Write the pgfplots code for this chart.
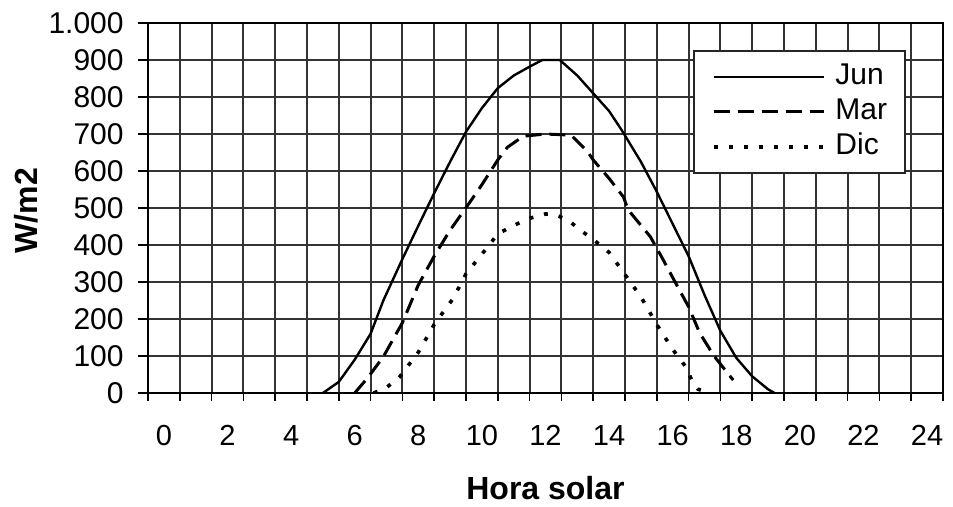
\documentclass[border=0pt]{standalone}
\usepackage{fontspec}
\setmainfont{Liberation Sans}
\usepackage{pgfplots}
\pgfplotsset{compat=1.18}
\usetikzlibrary{calc}

\begin{document}
\begin{tikzpicture}
\begin{axis}[
  name=ax,
  scale only axis,
  width=397.5pt, height=185pt,
  xmin=-0.5, xmax=24.5, ymin=0, ymax=1000,
  xtick={0,2,...,24},
  xticklabels={0,2,4,6,8,10,12,14,16,18,20,22,24},
  minor xtick={-0.5,0.5,...,24.5},
  ytick={0,100,...,1000},
  yticklabels={0,100,200,300,400,500,600,700,800,900,1.000},
  xminorgrids=true, xmajorgrids=false, ymajorgrids=true,
  grid style={draw=black!80, line width=1pt},
  minor grid style={draw=black!80, line width=1pt},
  tick pos=left, tick align=outside,
  major tick length=5pt, minor tick length=4pt,
  tick style={black, line width=0.8pt},
  major x tick style={draw=none},
  axis line style={black, line width=1.3pt},
  xticklabel style={font=\fontsize{14.5}{17}\selectfont, anchor=north, inner sep=0pt,
    text height=10.4pt, text depth=0pt, yshift=-10.5pt},
  yticklabel style={font=\fontsize{15}{18}\selectfont, anchor=east, inner sep=0pt, xshift=-7pt},
  xlabel={Hora solar},
  xlabel style={at={(axis description cs:0.5,-0.257)}, anchor=center, font=\fontsize{16}{19}\selectfont\bfseries},
  ylabel={W/m2},
  ylabel style={at={(axis description cs:-0.1528,0.493)}, anchor=center, font=\fontsize{16}{19}\selectfont\bfseries},
  legend cell align=left,
  legend image code/.code={\draw[#1] (0pt,0pt) -- (55pt,0pt);},
  legend style={at={(0.6855,0.927)}, anchor=north west, draw=black!85, line width=0.9pt, fill=white,
    inner xsep=9pt, inner ysep=6.25pt, row sep=4pt, font=\fontsize{15}{18}\selectfont,
    nodes={inner sep=0pt, text height=10.5pt, text depth=3pt, anchor=west},
    /tikz/every odd column/.append style={column sep=5pt}},
]
% Jun
\addplot[black, mark=none, line width=1.2pt, line join=round] coordinates {
  (5.0,0) (5.5,30) (6.0,90) (6.5,160) (6.9,250) (7.5,362) (8.0,452) (8.5,540)
  (9.0,625) (9.5,706) (10.0,770) (10.5,824) (11.0,858) (11.5,882) (11.9,900)
  (12.45,900) (13.0,858) (13.5,810) (14.0,762) (14.4,710) (15.0,625)
  (15.5,544) (16.2,422) (16.5,370) (17.0,265) (17.5,168) (18.0,95) (18.5,45)
  (19.0,10) (19.2,0)
};
\addlegendentry{Jun}
% Mar
\addplot[black, mark=none, line width=1.5pt, dash pattern=on 8pt off 4pt, line join=round] coordinates {
  (6.0,0) (6.4,40) (6.9,98) (7.5,190) (8.0,292) (8.5,370) (9.0,440) (9.6,513)
  (10.0,563) (10.5,630) (10.8,664) (11.3,694) (12.0,700) (12.8,697) (13.3,655)
  (13.5,630) (14.0,580) (14.45,530) (14.6,495) (15.3,422) (15.65,368) (16.0,312)
  (16.5,233) (16.85,162) (17.3,100) (17.9,35)
};
\addlegendentry{Mar}
% Dic
\addplot[black, mark=none, line width=1.8pt, dash pattern=on 2pt off 5.5pt, line join=round] coordinates {
  (6.6,0) (7.0,15) (7.4,42) (8.0,110) (8.5,185) (9.1,256) (9.5,322) (10.1,386)
  (10.5,430) (11.0,453) (11.5,472) (12.0,484) (12.3,482) (12.7,468) (13.1,440)
  (13.5,415) (14.0,380) (14.5,320) (15.0,260) (15.5,185) (16.0,118) (16.4,72)
  (16.6,35) (16.8,10) (17.2,0)
};
\addlegendentry{Dic}
\end{axis}
\path ($(ax.south west)+(-74pt,-55.5pt)$) rectangle ($(ax.north east)+(5pt,11.5pt)$);
\end{tikzpicture}
\end{document}
